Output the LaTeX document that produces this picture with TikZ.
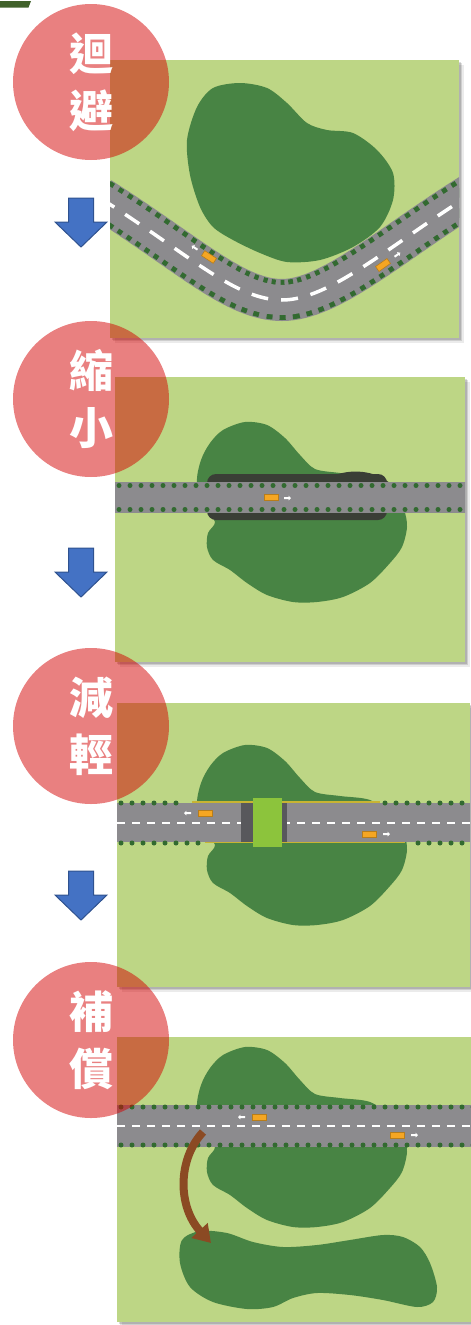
\documentclass[tikz,border=0pt]{standalone}
\usepackage{fontspec}
\newfontfamily\cjk{Noto Sans CJK TC}
\usetikzlibrary{arrows.meta,shapes.arrows,shadows}

\definecolor{grass}{RGB}{189,214,133}
\definecolor{forest}{RGB}{72,132,68}
\definecolor{hedge}{RGB}{50,106,48}
\definecolor{asphalt}{RGB}{140,139,142}
\definecolor{badgered}{RGB}{211,1,1}
\definecolor{flowblue}{RGB}{68,114,196}
\definecolor{flowedge}{RGB}{47,82,143}
\definecolor{carorange}{RGB}{245,166,35}
\definecolor{rail}{RGB}{200,180,50}
\definecolor{overpass}{RGB}{140,196,60}
\definecolor{deck}{RGB}{88,88,92}
\definecolor{viashadow}{RGB}{58,62,54}
\definecolor{movebrown}{RGB}{139,74,35}
\definecolor{cornergreen}{RGB}{64,97,42}

\tikzset{
  flowdown/.pic={
    \path[flow] (-12.5,0) -- (12.5,0) -- (12.5,24) -- (26,24) -- (0,49)
      -- (-26,24) -- (-12.5,24) -- cycle;
  }
}

\begin{document}
\begin{tikzpicture}[
  x=1pt, y=-1pt,
  panel/.style={rectangle, fill=grass, inner sep=0, outer sep=0, anchor=north west,
    drop shadow={shadow xshift=1.5pt, shadow yshift=-1.5pt, opacity=.14, fill=black},
    drop shadow={shadow xshift=3pt, shadow yshift=-3pt, opacity=.12, fill=black},
    drop shadow={shadow xshift=4.5pt, shadow yshift=-4.5pt, opacity=.08, fill=black}},
  badge/.style={circle, fill=badgered, fill opacity=.5, text opacity=1, text=white,
    minimum size=156, inner sep=0, align=center,
    font=\cjk\bfseries\fontsize{44}{57}\selectfont},
  hedgerow/.style={draw=hedge, line width=5pt, line cap=round, dash pattern=on 0pt off 11pt},
  lane/.style={draw=white, line width=2.5pt, dash pattern=on 8pt off 7pt},
  bendroad/.style={draw=asphalt, line width=42pt,
    postaction={draw=hedge, line width=40pt, dash pattern=on 5pt off 6pt},
    postaction={draw=asphalt, line width=30pt},
    postaction={draw=white, line width=3.5pt, dash pattern=on 17pt off 13pt}},
  car/.style={rectangle, draw=carorange!75!black, fill=carorange, line width=.6pt,
    minimum width=14, minimum height=6, inner sep=0},
  lanearrow/.style={single arrow, fill=white, inner sep=.8pt, minimum height=7,
    single arrow head extend=1.4pt},
  flow/.style={fill=flowblue, draw=flowedge, line width=1pt},
  wetland/.style={fill=forest}
]
  \useasboundingbox (0,0) rectangle (471,1325);
  \fill[cornergreen] (0,1) -- (31,1) -- (28.5,7.5) -- (0,7.5) -- cycle;

  % avoid: the road bends round the forest
  \node[panel, minimum width=349, minimum height=278] (avoidmap) at (110,60) {};
  \begin{scope}
    \clip (avoidmap.north west) rectangle (avoidmap.south east);
    \fill[wetland] plot[smooth cycle] coordinates {(240,83) (267,88) (287,103) (307,123)
      (327,130) (353,133) (377,150) (393,173) (393,200) (380,227) (353,247) (320,260)
      (287,262) (260,253) (233,240) (213,227) (200,207) (190,175) (187,140) (197,107) (213,88)};
    \path[bendroad] (100,198) .. controls (190,255) and (235,300) .. (282,300)
      .. controls (330,300) and (390,245) .. (470,195);
    \node[car, rotate=-33] (carA) at (209,257) {};
    \node[lanearrow, rotate=147] at (195,248) {};
    \node[car, rotate=35] (carB) at (383,265) {};
    \node[lanearrow, rotate=35] at (397,255) {};
  \end{scope}

  % minimise: viaduct over the forest
  \node[panel, minimum width=350, minimum height=285] (shrinkmap) at (115,377) {};
  \begin{scope}
    \clip (shrinkmap.north west) rectangle (shrinkmap.south east);
    \begin{scope}[shift={(245,422)}]
      \fill[wetland] plot[smooth cycle] coordinates {(0,0) (22,3) (40,16) (55,33) (70,47)
        (95,51) (125,55) (148,71) (159,88) (162,105) (157,125) (145,141) (125,161) (98,175)
        (72,180) (48,180) (22,173) (2,161) (-15,148) (-32,138) (-38,125) (-37,111) (-30,100)
        (-40,85) (-48,60) (-44,38) (-35,21) (-22,8)};
    \end{scope}
    \fill[viashadow, rounded corners=9pt] (207,474) rectangle (387,520);
    \fill[viashadow] (330,477) .. controls (350,468) and (375,470) .. (391,484) -- (330,484) -- cycle;
    \fill[asphalt] (115,482) rectangle (470,513);
    \draw[hedgerow] (119,485.5) -- (470,485.5);
    \draw[hedgerow] (119,509.5) -- (470,509.5);
    \node[car] (carC) at (271,497) {};
    \node[lanearrow] at (287,498) {};
  \end{scope}

  % reduce: green overpass across the road
  \node[panel, minimum width=353, minimum height=284] (reducemap) at (117,703) {};
  \begin{scope}
    \clip (reducemap.north west) rectangle (reducemap.south east);
    \begin{scope}[shift={(245,745)}]
      \fill[wetland] plot[smooth cycle] coordinates {(0,0) (22,3) (40,16) (55,33) (70,47)
        (95,51) (125,55) (148,71) (159,88) (162,105) (157,125) (145,141) (125,161) (98,175)
        (72,180) (48,180) (22,173) (2,161) (-15,148) (-32,138) (-38,125) (-37,111) (-30,100)
        (-40,85) (-48,60) (-44,38) (-35,21) (-22,8)};
    \end{scope}
    \fill[asphalt] (117,803) rectangle (470,842);
    \draw[lane] (117,823) -- (470,823);
    \draw[hedgerow] (121,803) -- (183,803);
    \draw[hedgerow] (385,803) -- (470,803);
    \draw[hedgerow] (121,843) -- (204,843);
    \draw[hedgerow] (418,843) -- (470,843);
    \draw[rail, line width=1.6pt] (192,802) -- (380,802);
    \draw[rail, line width=1.6pt] (205,842.5) -- (405,842.5);
    \fill[deck] (241,803) rectangle (253,842);
    \fill[deck] (282,803) rectangle (287,842);
    \fill[overpass] (253,798) rectangle (282,847);
    \node[car] (carD) at (205,813) {};
    \node[lanearrow, rotate=180] at (188,813) {};
    \node[car] (carE) at (369,834) {};
    \node[lanearrow] at (386,834) {};
  \end{scope}

  % compensate: new habitat made elsewhere
  \node[panel, minimum width=362, minimum height=285] (offsetmap) at (117,1037) {};
  \begin{scope}
    \clip (offsetmap.north west) rectangle (offsetmap.south east);
    \begin{scope}[shift={(245,1047)}]
      \fill[wetland] plot[smooth cycle] coordinates {(0,0) (22,3) (40,16) (55,33) (70,47)
        (95,51) (125,55) (148,71) (159,88) (162,105) (157,125) (145,141) (125,161) (98,175)
        (72,180) (48,180) (22,173) (2,161) (-15,148) (-32,138) (-38,125) (-37,111) (-30,100)
        (-40,85) (-48,60) (-44,38) (-35,21) (-22,8)};
    \end{scope}
    \fill[wetland] plot[smooth cycle] coordinates {(182,1240) (200,1231) (227,1233)
      (253,1242) (283,1247) (317,1245) (350,1240) (383,1235) (403,1237) (420,1247)
      (430,1263) (437,1287) (433,1302) (417,1307) (383,1300) (350,1295) (317,1293)
      (293,1298) (273,1307) (247,1309) (213,1302) (190,1287) (180,1263)};
    \fill[asphalt] (117,1105) rectangle (480,1147);
    \draw[lane] (117,1126) -- (480,1126);
    \draw[hedgerow] (121,1107) -- (480,1107);
    \draw[hedgerow] (121,1145) -- (480,1145);
    \node[car] (carF) at (259,1117) {};
    \node[lanearrow, rotate=180] at (242,1117) {};
    \node[car] (carG) at (397,1135) {};
    \node[lanearrow] at (414,1135) {};
    \coordinate (lost) at (203,1132);
    \coordinate (gained) at (211,1243);
    \draw[movebrown, line width=8pt, -{Triangle[length=17pt,width=21pt]}]
      (lost) .. controls (177,1160) and (178,1207) .. (gained);
  \end{scope}

  \pic at (81,198) {flowdown};
  \pic at (81,548) {flowdown};
  \pic at (81,871) {flowdown};

  \node[badge] (avoid) at (91,82) {迴\\避};
  \node[badge] (shrink) at (91,399) {縮\\小};
  \node[badge] (reduce) at (91,726) {減\\輕};
  \node[badge] (offset) at (91,1040) {補\\償};
\end{tikzpicture}
\end{document}
